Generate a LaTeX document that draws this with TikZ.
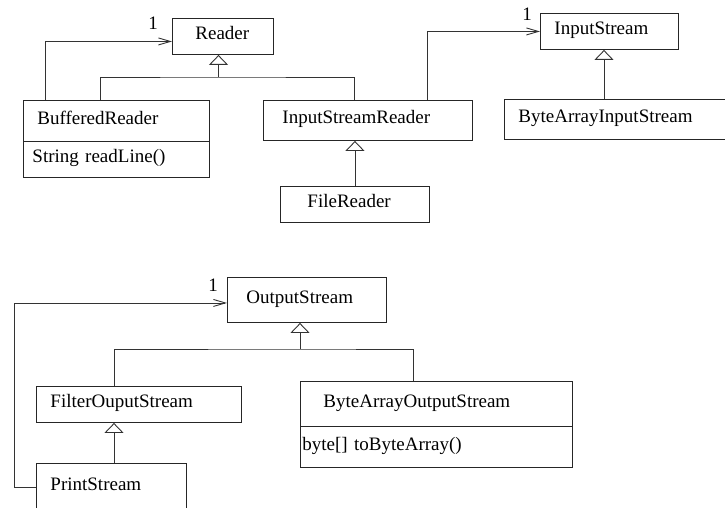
\documentclass[tikz,border=0pt]{standalone}
\usepackage{fontspec}
\setmainfont{Liberation Serif}
\usetikzlibrary{arrows.meta}

\tikzset{
  cls/.style={draw=black!85, line width=0.9pt, anchor=north west, align=left, inner ysep=0pt, text height=0.75em, text depth=0.1em},
  conn/.style={draw=black!80, line width=0.9pt},
  gen/.style={conn, -{Triangle[open, length=10pt, width=19pt]}},
  assoc/.style={conn, -{Straight Barb[length=12pt, width=7pt]}},
  mult/.style={inner sep=0pt}
}

\begin{document}
\begin{tikzpicture}[x=1pt, y=-1pt, font=\fontsize{19}{22}\selectfont]
      \useasboundingbox (0,0) rectangle (725,508);

      \node[cls, minimum height=36pt, text width=55pt, inner xsep=23pt] (reader) at (172,18) {Reader};
      \node[cls, minimum height=41pt, text width=158pt, inner xsep=14pt] (bufr) at (23,100) {BufferedReader};
      \node[cls, minimum height=36pt, text width=168pt, inner xsep=9pt] (bufrops) at (23,141) {String readLine()};
      \node[cls, minimum height=40pt, text width=171pt, inner xsep=19pt] (isr) at (263,100) {InputStreamReader};
      \node[cls, minimum height=36pt, text width=95pt, inner xsep=27pt] (fr) at (280,186) {FileReader};
      \node[cls, minimum height=36pt, text width=110pt, inner xsep=14pt] (instr) at (540,13) {InputStream};
      \node[cls, minimum height=40pt, text width=212pt, inner xsep=14pt] (bais) at (504,99) {ByteArrayInputStream};

      \node[cls, minimum height=45pt, text width=121pt, inner xsep=19pt] (os) at (227,277) {OutputStream};
      \node[cls, minimum height=36pt, text width=177pt, inner xsep=14pt] (fos) at (36,386) {FilterOuputStream};
      \node[cls, minimum height=45pt, text width=226pt, inner xsep=23pt] (baos) at (300,381) {ByteArrayOutputStream};
      \node[cls, minimum height=41pt, text width=268pt, inner xsep=2pt] (baosops) at (300,426) {byte[] toByteArray()};
      \node[cls, minimum height=47pt, text width=122pt, inner xsep=14pt] (ps) at (36,463) {PrintStream};

      \node[mult] (m1) at (153,23) {1};
      \node[mult] (m2) at (527,14) {1};
      \node[mult] (m3) at (213,285) {1};

      \coordinate (rj) at (218.5,77);
      \coordinate (bufrT) at ([xshift=77pt]bufr.north west);
      \coordinate (isrT) at ([xshift=91pt]isr.north west);
      \coordinate (baisT) at ([xshift=100pt]bais.north west);
      \coordinate (oj) at (300,349);
      \coordinate (fosT) at ([xshift=78pt]fos.north west);
      \coordinate (baosT) at ([xshift=113pt]baos.north west);
      \coordinate (psT) at ([xshift=78pt]ps.north west);

      \draw[gen] (rj) -- (rj |- reader.south);
      \draw[conn] (bufrT) |- (rj) -| (isrT);
      \draw[gen] (fr.north) -- (fr.north |- isr.south);
      \draw[gen] (baisT) -- (baisT |- instr.south);
      \draw[gen] (oj) -- (oj |- os.south);
      \draw[conn] (fosT) |- (oj) -| (baosT);
      \draw[gen] (psT) -- (psT |- fos.south);

      \draw[assoc] ([xshift=22pt]bufr.north west) |- ([yshift=-5pt]reader.west);
      \draw[assoc] ([xshift=164pt]isr.north west) |- (instr.west);
      \draw[assoc] (ps.west) -- ++(-22,0) |- ([yshift=-3pt]os.west);
    \end{tikzpicture}
\end{document}
